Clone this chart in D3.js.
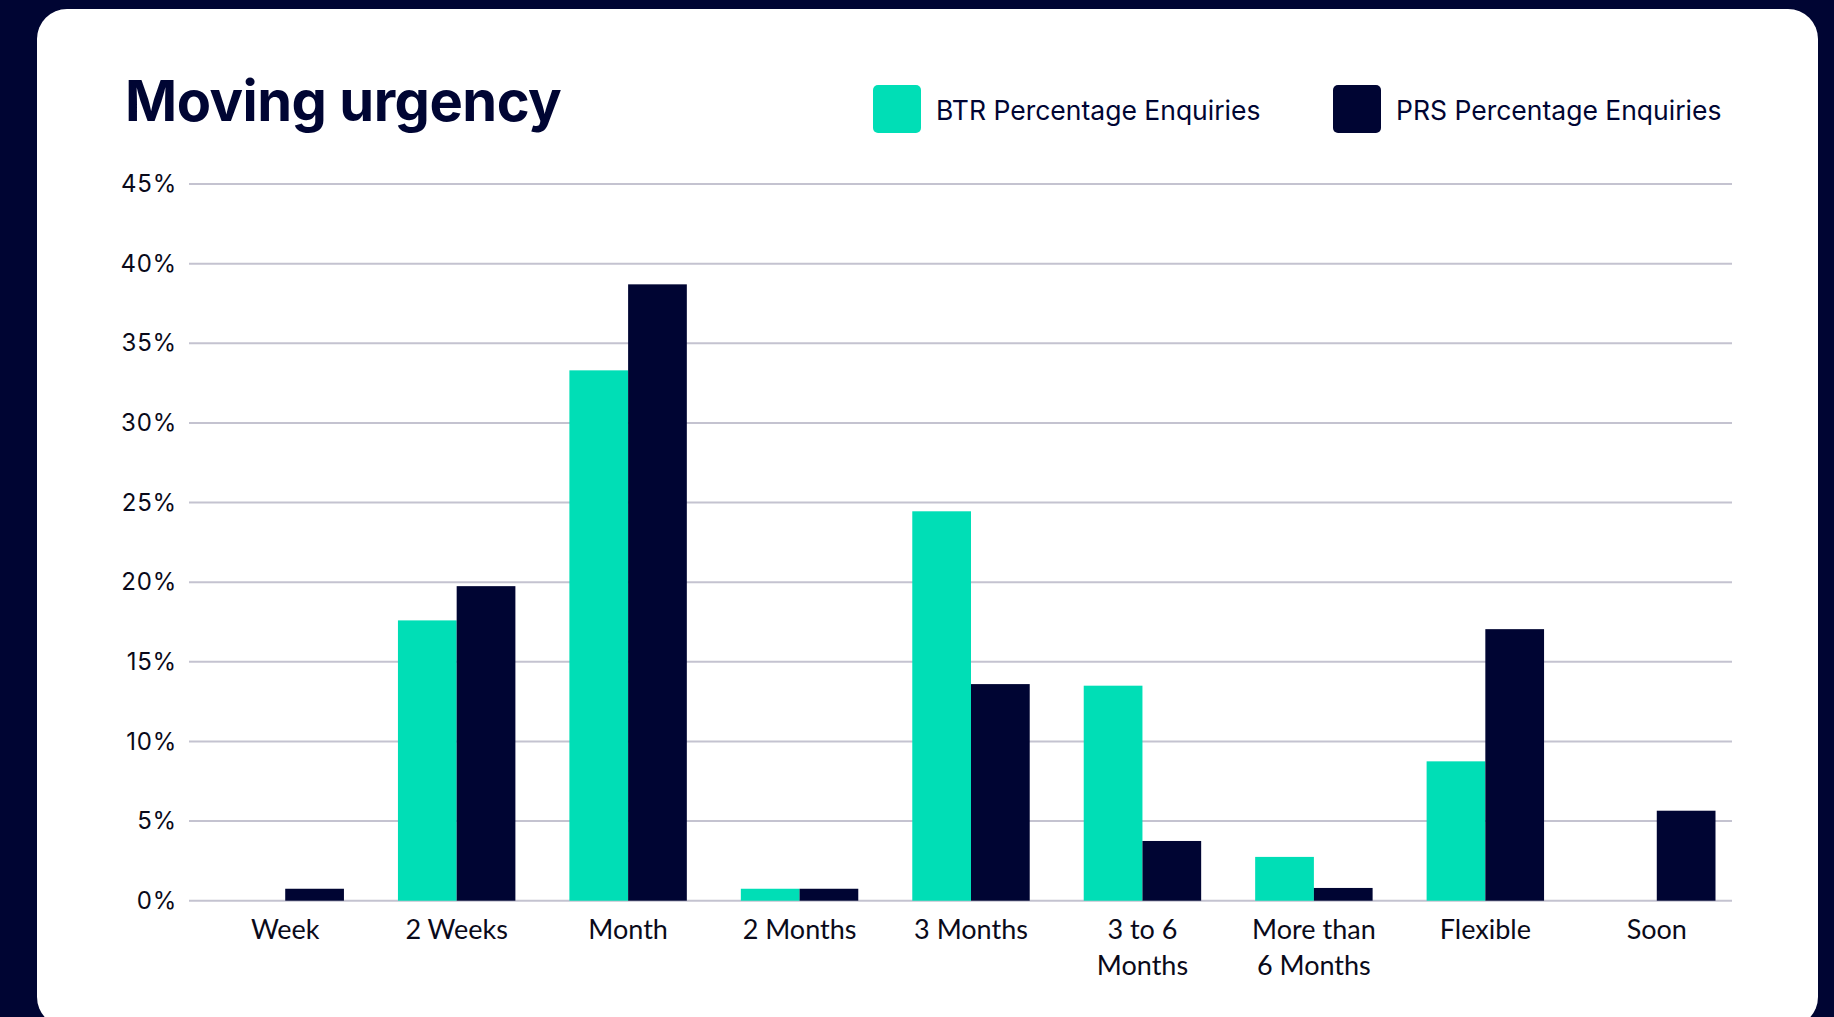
<!DOCTYPE html>
<html>
<head>
<meta charset="utf-8">
<script src="https://cdn.jsdelivr.net/npm/d3@7"></script>
<style>
  html, body { margin: 0; padding: 0; background: #000533; }
  svg { display: block; }
</style>
</head>
<body>
<svg id="chart" width="1834" height="1017"></svg>
<script>
const categories = ["Week", "2 Weeks", "Month", "2 Months", "3 Months", "3 to 6 Months", "More than 6 Months", "Flexible", "Soon"];
const categoryLines = [["Week"], ["2 Weeks"], ["Month"], ["2 Months"], ["3 Months"], ["3 to 6", "Months"], ["More than", "6 Months"], ["Flexible"], ["Soon"]];
const seriesNames = ["BTR Percentage Enquiries", "PRS Percentage Enquiries"];
const btrValues = [0, 17.6, 33.3, 0.75, 24.45, 13.5, 2.75, 8.75, 0];
const prsValues = [0.75, 19.75, 38.7, 0.75, 13.6, 3.75, 0.8, 17.05, 5.65];
const yTicks = [0, 5, 10, 15, 20, 25, 30, 35, 40, 45];
const title = "Moving urgency";

const colors = { BTR: "#00DEB6", PRS: "#000533", grid: "#C4C3D0", text: "#000533" };

const svg = d3.select("#chart");

// card
svg.append("rect").attr("x", 37).attr("y", 9).attr("width", 1781).attr("height", 1018)
  .attr("rx", 30).attr("ry", 30).attr("fill", "#ffffff");

const x = d3.scaleBand().domain(categories).range([199.5, 1742.5]).paddingInner(0.315).paddingOuter(0.1575);
const xs = d3.scaleBand().domain(["BTR", "PRS"]).range([0, x.bandwidth()]);
const y = d3.scaleLinear().domain([0, 45]).range([900.7, 184]);

// grid + y labels
const yAxis = d3.axisLeft(y).tickValues(yTicks).tickSize(0).tickPadding(0).tickFormat(d => d + "%");
const gy = svg.append("g").attr("transform", "translate(177,0)").call(yAxis);
gy.select(".domain").remove();
gy.selectAll("text").attr("font-family", "Inter, 'Open Sans', sans-serif").attr("font-size", 24)
  .attr("letter-spacing", 0.8)
  .attr("fill", "#0a0a1a").attr("dy", "0.32em").attr("x", 0);

svg.append("g").selectAll("line").data(yTicks).join("line")
  .attr("x1", 189).attr("x2", 1732)
  .attr("y1", d => y(d)).attr("y2", d => y(d))
  .attr("stroke", colors.grid).attr("stroke-width", 2);

// bars
const groups = svg.append("g").selectAll("g").data(categories).join("g")
  .attr("transform", d => `translate(${x(d)},0)`);
groups.append("rect")
  .attr("x", xs("BTR")).attr("width", xs.bandwidth())
  .attr("y", (d, i) => y(btrValues[i])).attr("height", (d, i) => y(0) - y(btrValues[i]))
  .attr("fill", colors.BTR);
groups.append("rect")
  .attr("x", xs("PRS")).attr("width", xs.bandwidth())
  .attr("y", (d, i) => y(prsValues[i])).attr("height", (d, i) => y(0) - y(prsValues[i]))
  .attr("fill", colors.PRS);

// x labels
const xl = svg.append("g").selectAll("text").data(categories).join("text")
  .attr("x", d => x(d) + x.bandwidth() / 2)
  .attr("y", 939)
  .attr("text-anchor", "middle")
  .attr("font-family", "Lato, 'Noto Sans', sans-serif")
  .attr("font-size", 27)
  .attr("fill", "#0a0a1a");
xl.each(function(d, i) {
  const t = d3.select(this);
  categoryLines[i].forEach((line, j) => {
    t.append("tspan").attr("x", x(d) + x.bandwidth() / 2).attr("dy", j === 0 ? 0 : 36).text(line);
  });
});

// title
svg.append("text").attr("x", 125).attr("y", 121)
  .attr("font-family", "Inter, Lato, sans-serif").attr("font-weight", 700)
  .attr("font-size", 56).attr("letter-spacing", -0.5).attr("fill", colors.text).text(title);

// legend
const legend = [
  { name: seriesNames[0], color: colors.BTR, x: 873 },
  { name: seriesNames[1], color: colors.PRS, x: 1333 }
];
const lg = svg.append("g").selectAll("g").data(legend).join("g")
  .attr("transform", d => `translate(${d.x},85)`);
lg.append("rect").attr("width", 48).attr("height", 48).attr("rx", 5).attr("fill", d => d.color);
lg.append("text").attr("x", 63).attr("y", 35)
  .attr("font-family", "Inter, Lato, sans-serif").attr("font-size", 26.5)
  .attr("fill", colors.text).text(d => d.name);
</script>
</body>
</html>
